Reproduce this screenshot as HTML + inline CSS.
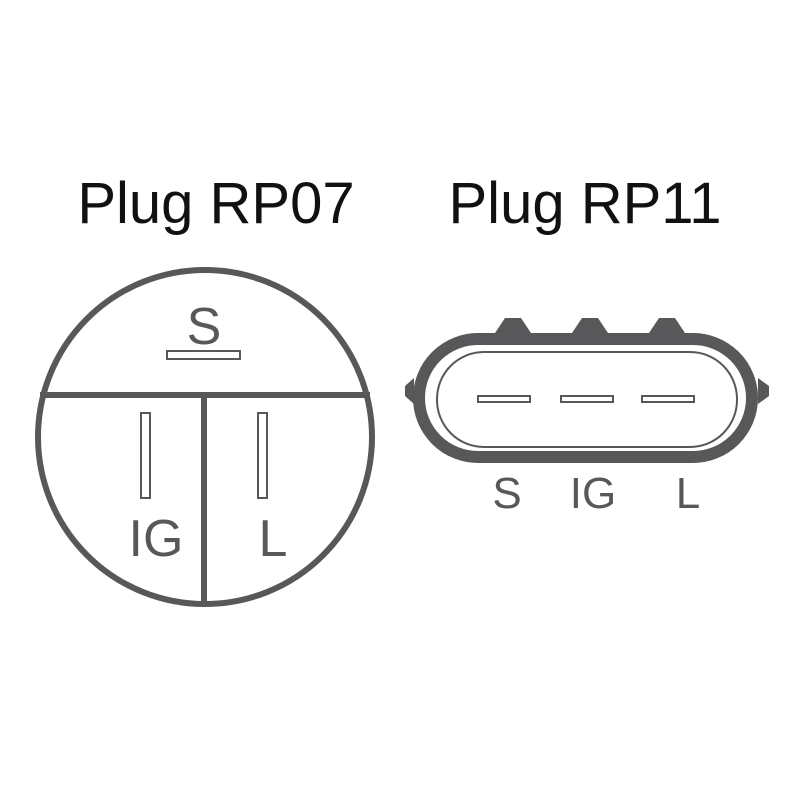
<!DOCTYPE html>
<html><head><style>body{margin:0;background:#fff}svg{display:block}</style></head><body>
<svg width="800" height="800" viewBox="0 0 800 800" xmlns="http://www.w3.org/2000/svg" font-family="Liberation Sans, sans-serif">
<rect width="800" height="800" fill="#fff"/>
<text x="216" y="223" font-size="58" text-anchor="middle" fill="#111">Plug RP07</text>
<text x="585" y="223" font-size="58" text-anchor="middle" fill="#111">Plug RP11</text>
<g stroke="#58585a" fill="none">
<circle cx="205" cy="437" r="167" stroke-width="6"/>
<line x1="40" y1="395" x2="370" y2="395" stroke-width="6"/>
<line x1="204" y1="395" x2="204" y2="604" stroke-width="6"/>
<rect x="167" y="351" width="73" height="8" stroke-width="2"/>
<rect x="141" y="413" width="9" height="85" stroke-width="2"/>
<rect x="258" y="413" width="9" height="85" stroke-width="2"/>
</g>
<g fill="#58585a" font-size="52" text-anchor="middle">
<text x="204" y="344">S</text>
<text x="156" y="556">IG</text>
<text x="273" y="556">L</text>
</g>
<g fill="#58585a">
<polygon points="493,336 505,318 521,318 533,336"/>
<polygon points="570,336 582,318 598,318 610,336"/>
<polygon points="647,336 659,318 675,318 687,336"/>
<polygon points="414,378 405,386 405,396 414,404"/>
<polygon points="758,378 769,386 769,396 758,404"/>
</g>
<rect x="419" y="339" width="333" height="118" rx="59" fill="none" stroke="#58585a" stroke-width="12"/>
<rect x="437" y="352" width="300" height="95" rx="47" fill="none" stroke="#58585a" stroke-width="2"/>
<g fill="none" stroke="#58585a" stroke-width="2">
<rect x="478" y="396" width="52" height="6"/>
<rect x="561" y="396" width="52" height="6"/>
<rect x="642" y="396" width="52" height="6"/>
</g>
<g fill="#58585a" font-size="44" text-anchor="middle">
<text x="507" y="508">S</text>
<text x="593" y="508">IG</text>
<text x="688" y="508">L</text>
</g>
</svg>
</body></html>
